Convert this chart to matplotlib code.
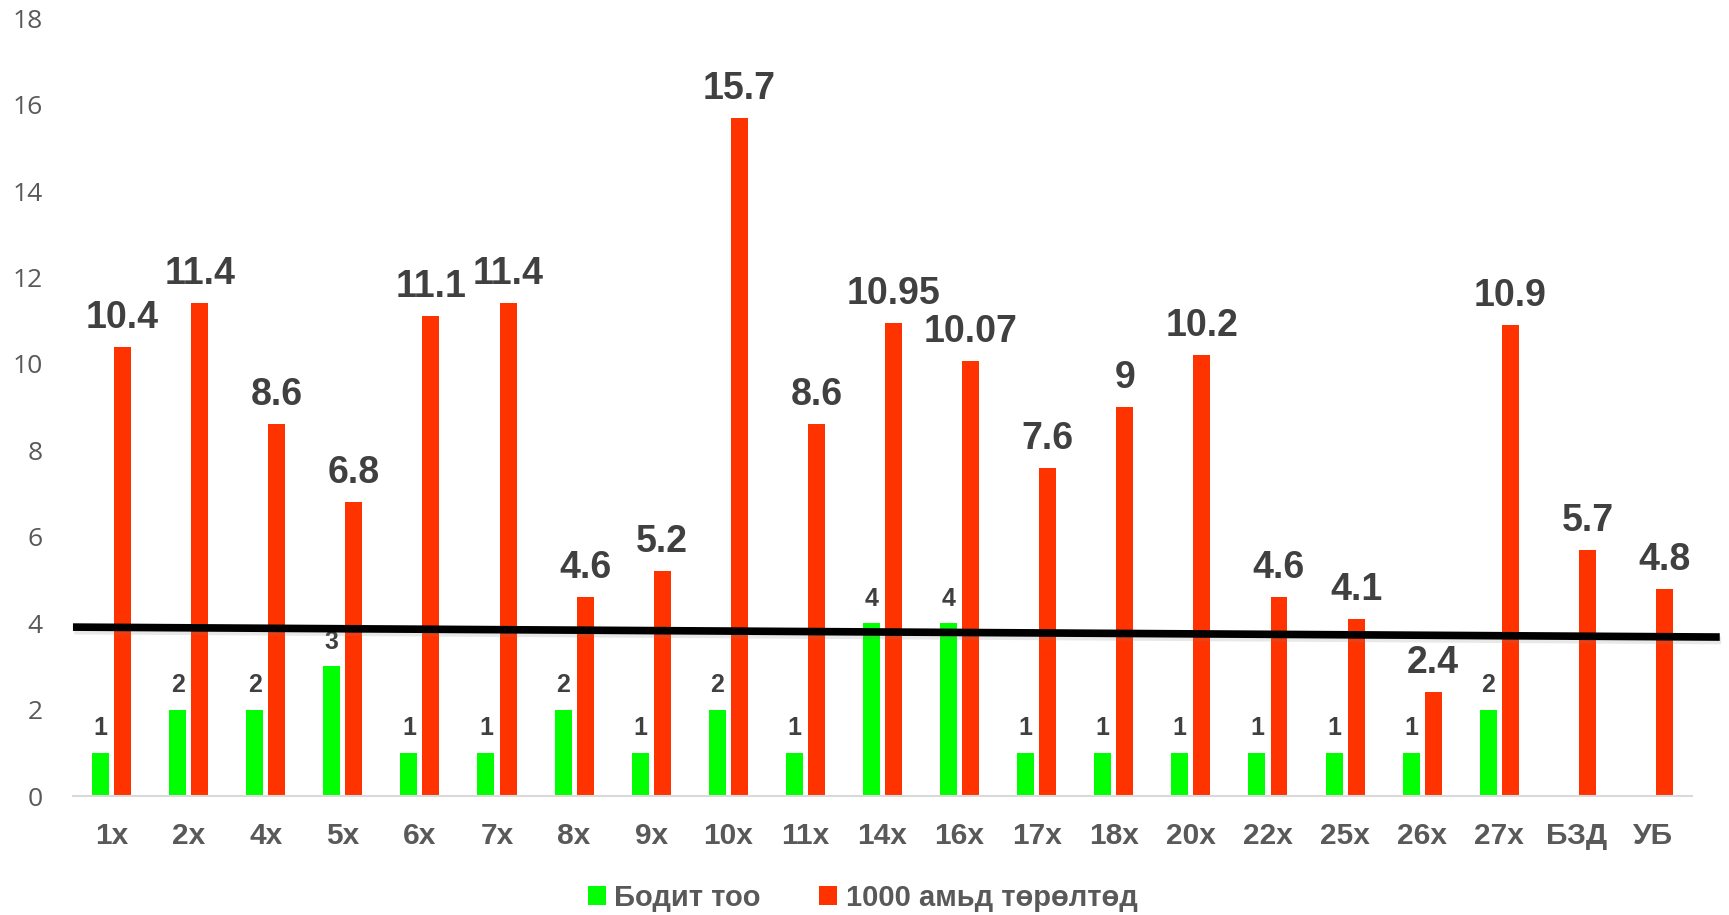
import matplotlib
matplotlib.use("Agg")
import matplotlib.pyplot as plt
import matplotlib.patheffects as pe
from matplotlib import font_manager
import numpy as np

categories = ["1х", "2х", "4х", "5х", "6х", "7х", "8х", "9х", "10х", "11х", "14х",
              "16х", "17х", "18х", "20х", "22х", "25х", "26х", "27х", "БЗД", "УБ"]
actual = [1, 2, 2, 3, 1, 1, 2, 1, 2, 1, 4, 4, 1, 1, 1, 1, 1, 1, 2, None, None]
per1000 = [10.4, 11.4, 8.6, 6.8, 11.1, 11.4, 4.6, 5.2, 15.7, 8.6, 10.95, 10.07,
           7.6, 9, 10.2, 4.6, 4.1, 2.4, 10.9, 5.7, 4.8]
per1000_labels = ["10.4", "11.4", "8.6", "6.8", "11.1", "11.4", "4.6", "5.2", "15.7",
                  "8.6", "10.95", "10.07", "7.6", "9", "10.2", "4.6", "4.1", "2.4",
                  "10.9", "5.7", "4.8"]
trend_x = [-0.5, 20.86]
trend_y = [3.91, 3.68]
series_names = ["Бодит тоо", "1000 амьд төрөлтөд"]

GREEN = "#00FF00"
RED = "#FF3300"
TXT = "#595959"
LBL = "#404040"

names = {f.name for f in font_manager.fontManager.ttflist}
leg_family = "Liberation Sans Narrow" if "Liberation Sans Narrow" in names else "Liberation Sans"
leg_size = 23.5 if leg_family == "Liberation Sans Narrow" else 21

fig = plt.figure(figsize=(17.29, 9.15), dpi=100)
ax = fig.add_axes([0.0422, 0.130, 0.9364, 0.850])

x = np.arange(len(categories))
w = 0.22
off = 0.143
gx = [xi - off for xi, v in zip(x, actual) if v is not None]
gv = [v for v in actual if v is not None]
bg = ax.bar(gx, gv, width=w, color=GREEN, label=series_names[0], zorder=2)
br = ax.bar(x + off, per1000, width=w, color=RED, label=series_names[1], zorder=2)

for xi, v in zip(gx, gv):
    ax.annotate(str(v), (xi, v), xytext=(0, 9), textcoords="offset points",
                ha="center", va="bottom", fontsize=18, fontweight="bold",
                color=LBL, family="Liberation Sans")
for xi, v, s in zip(x + off, per1000, per1000_labels):
    ax.annotate(s, (xi, v), xytext=(0, 8), textcoords="offset points",
                ha="center", va="bottom", fontsize=27, fontweight="bold",
                color=LBL, family="Liberation Sans")

ax.plot(trend_x, trend_y, color="black", lw=5.5, clip_on=False, zorder=5,
        solid_capstyle="butt",
        path_effects=[pe.SimpleLineShadow(offset=(1, -2.5), shadow_color="gray", alpha=0.18),
                      pe.Normal()])

ax.set_xlim(-0.5, len(categories) - 0.5)
ax.set_ylim(0, 18)
ax.set_yticks(np.arange(0, 19, 2))
ax.set_xticks(x)
ax.set_xticklabels(categories, fontsize=21.5, fontweight="bold", color=TXT,
                   family="Liberation Sans")
ax.tick_params(axis="x", length=0, pad=19)
ax.tick_params(axis="y", length=0, pad=22, labelsize=19, labelcolor=TXT)
for lab in ax.get_yticklabels():
    lab.set_family("Open Sans")
for s in ["top", "right", "left"]:
    ax.spines[s].set_visible(False)
ax.spines["bottom"].set_color("#D9D9D9")
ax.spines["bottom"].set_linewidth(1.5)

leg = fig.legend(handles=[bg, br], labels=series_names, loc="center",
                 bbox_to_anchor=(0.499, 0.019), ncol=2, frameon=False,
                 prop={"family": leg_family, "weight": "bold", "size": leg_size},
                 handlelength=0.6, handleheight=0.6, handletextpad=0.3,
                 columnspacing=2.0, labelcolor=TXT)

fig.savefig("out.png", dpi=100, facecolor="white")
